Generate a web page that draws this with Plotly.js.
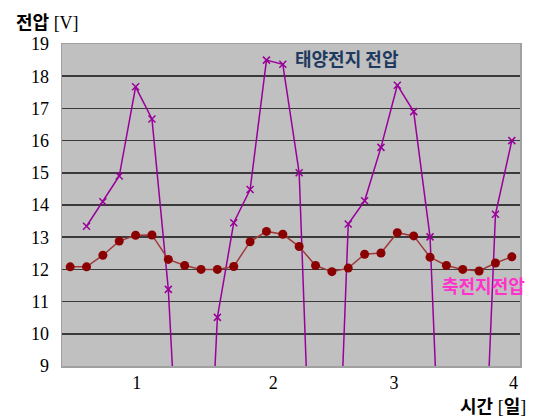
<!DOCTYPE html>
<html>
<head>
<meta charset="utf-8">
<script src="https://cdn.plot.ly/plotly-3.0.1.min.js"></script>
<style>html,body{margin:0;padding:0;background:#fff;}#chart{width:536px;height:419px;}</style>
</head>
<body>
<div id="chart"></div>
<script>
// sample index (every 3 hours), 28 samples
const sampleIndex = Array.from({length: 28}, (_, i) => i);
// solar panel voltage [V] (night values fall below the axis)
const solarVoltage = [null, 13.34, 14.1, 14.9, 17.67, 16.67, 11.38, 1.7,
                      0.0, 10.51, 13.45, 14.48, 18.5, 18.37, 15.0, 1.0,
                      0.0, 13.41, 14.13, 15.79, 17.72, 16.9, 13.01, 0.6,
                      0.5, 1.5, 13.71, 16.0];
// battery voltage [V]
const batteryVoltage = [12.08, 12.08, 12.44, 12.88, 13.06, 13.07, 12.31, 12.12,
                        12.0, 12.0, 12.09, 12.86, 13.18, 13.09, 12.71, 12.12,
                        11.93, 12.04, 12.47, 12.51, 13.14, 13.04, 12.38, 12.12,
                        12.0, 11.95, 12.2, 12.39];
// day tick labels and where they sit on the sample axis
const dayTickLabels = ['1', '2', '3', '4'];
const dayTickPos = [4.07, 12.42, 19.8, 27.1];
const yTicks = [9, 10, 11, 12, 13, 14, 15, 16, 17, 18, 19];

const kr = '"Noto Sans CJK KR", "Noto Sans", sans-serif';
const serif = '"Times New Roman", "Liberation Serif", serif';

const traces = [
  {
    x: sampleIndex, y: solarVoltage, type: 'scatter', mode: 'lines+markers',
    name: '태양전지 전압', connectgaps: false, cliponaxis: true,
    line: {color: '#990099', width: 1.5},
    marker: {symbol: 'x-thin-open', size: 7, color: '#990099', line: {color: '#990099', width: 1.5}}
  },
  {
    x: sampleIndex, y: batteryVoltage, type: 'scatter', mode: 'lines+markers',
    name: '축전지전압',
    line: {color: '#a03a3a', width: 1.5},
    marker: {symbol: 'circle', size: 9, color: '#8b0000'}
  }
];

const layout = {
  width: 536, height: 419,
  margin: {l: 62, r: 16, t: 43.5, b: 52.5, pad: 0},
  paper_bgcolor: '#ffffff',
  plot_bgcolor: '#c0c0c0',
  showlegend: false,
  font: {family: serif},
  xaxis: {
    range: [-0.5, 27.5], tickmode: 'array', tickvals: dayTickPos, ticktext: dayTickLabels,
    showgrid: false, zeroline: false, ticks: '',
    showline: true, mirror: true, linecolor: '#a0a0a0', linewidth: 1.5,
    tickfont: {family: serif, size: 18, color: '#000'}
  },
  yaxis: {
    range: [9, 19], tickmode: 'array', tickvals: yTicks,
    showgrid: true, gridcolor: '#3a3a3a', gridwidth: 1.5, zeroline: false, ticks: '',
    showline: true, mirror: true, linecolor: '#a0a0a0', linewidth: 1.5,
    ticklabelstandoff: 8,
    tickfont: {family: serif, size: 18, color: '#000'}
  },
  annotations: [
    {xref: 'paper', yref: 'paper', x: -0.105, y: 1.07, xanchor: 'left', yanchor: 'middle',
     showarrow: false, text: '<b>전압</b><span style="font-family:Liberation Serif"> [V]</span>',
     font: {family: kr, size: 18, color: '#000'}},
    {xref: 'paper', yref: 'paper', x: 1.018, y: -0.122, xanchor: 'right', yanchor: 'middle',
     showarrow: false, text: '<b>시간</b><span style="font-family:Liberation Serif"> [</span><b>일</b><span style="font-family:Liberation Serif">]</span>',
     font: {family: kr, size: 18, color: '#000'}},
    {xref: 'paper', yref: 'paper', x: 0.622, y: 0.955, xanchor: 'center', yanchor: 'middle',
     showarrow: false, text: '<b>태양전지 전압</b>',
     font: {family: kr, size: 18, color: '#1f3a60'}},
    {xref: 'paper', yref: 'paper', x: 0.921, y: 0.252, xanchor: 'center', yanchor: 'middle',
     showarrow: false, text: '<b>축전지전압</b>',
     font: {family: kr, size: 18, color: '#ff33cc'}}
  ]
};

Plotly.newPlot('chart', traces, layout, {displayModeBar: false, staticPlot: true});
</script>
</body>
</html>
